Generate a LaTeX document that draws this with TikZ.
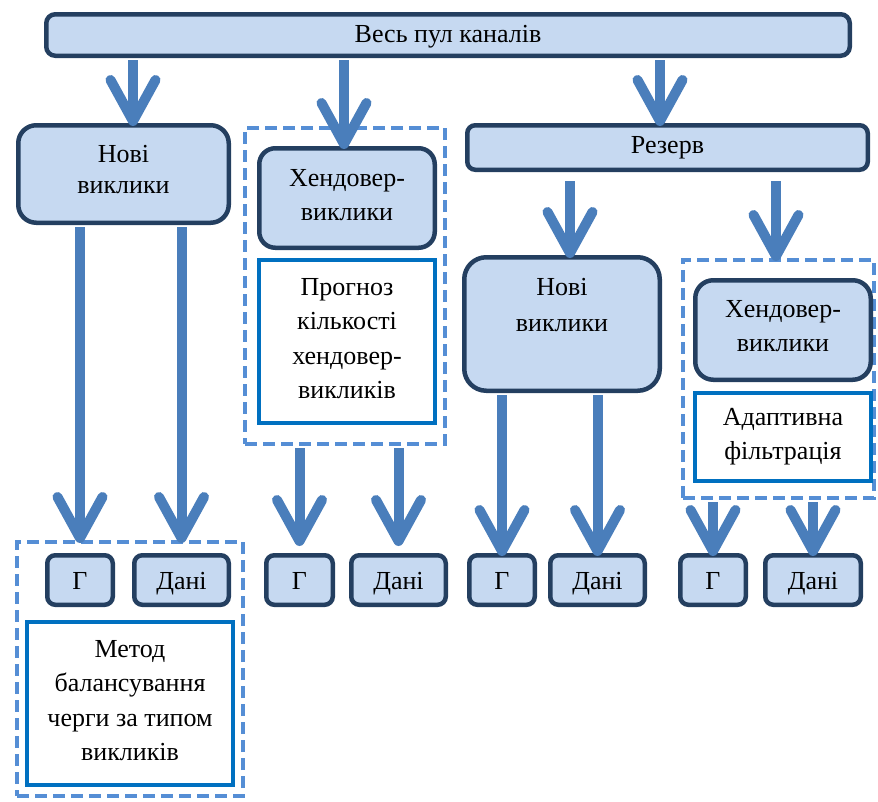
\documentclass[tikz,border=0pt]{standalone}
\usepackage{fontspec}
\setmainfont{Liberation Serif}
\usetikzlibrary{arrows.meta,calc}
\definecolor{navy}{HTML}{243F60}
\definecolor{paleblue}{HTML}{C6D9F1}
\definecolor{arrowblue}{HTML}{4A7EBB}
\definecolor{dashblue}{HTML}{558ED5}
\definecolor{methodblue}{HTML}{0070C0}
\begin{document}
\begin{tikzpicture}[x=1pt,y=-1pt,
  every node/.style={font=\fontsize{26}{34.5}\selectfont, align=center, inner sep=0pt, text height=20pt},
  navybox/.style={draw=navy, fill=paleblue, line width=4.5pt, rounded corners=#1},
  navybox/.default=9pt,
  whitebox/.style={draw=methodblue, fill=white, line width=4pt},
  groupbox/.style={draw=dashblue, line width=4pt, dash pattern=on 12pt off 6pt},
  arr/.style={draw=arrowblue, line width=10pt, shorten <=2pt, shorten >=-3pt, -{Straight Barb[length=41pt,width=45pt,round]}}
]
\useasboundingbox (0,0) rectangle (878,801);

% group (dashed) boxes
\node[groupbox, minimum width=200pt, minimum height=316pt] (d1) at (345,286) {};
\node[groupbox, minimum width=191pt, minimum height=238pt] (d2) at (778.5,379) {};
\node[groupbox, minimum width=226pt, minimum height=254pt] (d3) at (130,669) {};

% main boxes
\node[navybox, minimum width=803.5pt, minimum height=41.5pt, text depth=6pt] (top) at (448,35) {Весь пул каналів};
\node[navybox=18pt, minimum width=210.5pt, minimum height=97.5pt, text height=50.5pt, text depth=11.5pt, font=\fontsize{26}{31.5}\selectfont] (nl) at (123.5,174) {Нові\\виклики};
\node[navybox=16pt, minimum width=175.5pt, minimum height=99.5pt, text height=54.5pt, text depth=9.5pt] (hl) at (347,198) {Хендовер-\\виклики};
\node[whitebox, minimum width=176pt, minimum height=163pt, text height=123.5pt, text depth=9.5pt] (pr) at (347,341.5) {Прогноз\\кількості\\хендовер-\\викликів};
\node[navybox=8pt, minimum width=400.5pt, minimum height=44.5pt, text depth=9pt] (rez) at (667.5,147.5) {Резерв};
\node[navybox=22pt, minimum width=195.5pt, minimum height=133.5pt, text height=55.5pt, text depth=40.5pt, font=\fontsize{26}{36}\selectfont] (nr) at (562,324) {Нові\\виклики};
\node[navybox=18pt, minimum width=175.5pt, minimum height=99.5pt, text height=54.5pt, text depth=11.5pt] (hr) at (783,330) {Хендовер-\\виклики};
\node[whitebox, minimum width=176pt, minimum height=88pt, text height=54.5pt, text depth=9.5pt] (ad) at (783,437) {Адаптивна\\фільтрація};
\node[whitebox, minimum width=206pt, minimum height=163pt, text height=123.5pt, text depth=9.5pt] (me) at (130,703.5) {Метод\\балансування\\черги за типом\\викликів};

% bottom row
\node[navybox=8pt, minimum width=65.5pt, minimum height=49.5pt, text depth=2pt] (g1) at (80,580) {Г};
\node[navybox=8pt, minimum width=94.5pt, minimum height=49.5pt, text depth=2pt] (da1) at (181.5,580) {Дані};
\node[navybox=8pt, minimum width=66.5pt, minimum height=49.5pt, text depth=2pt] (g2) at (299.5,580) {Г};
\node[navybox=8pt, minimum width=94.5pt, minimum height=49.5pt, text depth=2pt] (da2) at (398.5,580) {Дані};
\node[navybox=8pt, minimum width=65.5pt, minimum height=49.5pt, text depth=2pt] (g3) at (502,580) {Г};
\node[navybox=8pt, minimum width=94.5pt, minimum height=49.5pt, text depth=2pt] (da3) at (597.5,580) {Дані};
\node[navybox=8pt, minimum width=65.5pt, minimum height=49.5pt, text depth=2pt] (g4) at (713,580) {Г};
\node[navybox=8pt, minimum width=95.5pt, minimum height=49.5pt, text depth=2pt] (da4) at (813,580) {Дані};

% arrows
\draw[arr] ($(top.south -| nl.north)+(9.5,0)$) -- ($(nl.north)+(9.5,0)$);
\draw[arr] ($(top.south -| hl.north)+(-3,0)$) -- ($(hl.north)+(-3,0)$);
\draw[arr] ($(top.south -| rez.north)+(-7.5,0)$) -- ($(rez.north)+(-7.5,0)$);
\draw[arr, shorten <=9pt] ($(rez.south -| nr.north)+(8,0)$) -- ($(nr.north)+(8,0)$);
\draw[arr, shorten <=9pt] ($(rez.south -| d2.north)+(-2.5,0)$) -- ($(d2.north)+(-2.5,0)$);
\draw[arr] (g1.north |- nl.south) -- (g1.north |- d3.north);
\draw[arr] (da1.north |- nl.south) -- (da1.north |- d3.north);
\draw[arr] (g2.north |- d1.south) -- ($(g2.north)+(0,-10)$);
\draw[arr] (da2.north |- d1.south) -- ($(da2.north)+(0,-10)$);
\draw[arr] (g3.north |- nr.south) -- (g3.north);
\draw[arr] (da3.north |- nr.south) -- (da3.north);
\draw[arr] (g4.north |- d2.south) -- (g4.north);
\draw[arr] (da4.north |- d2.south) -- (da4.north);
\end{tikzpicture}
\end{document}
